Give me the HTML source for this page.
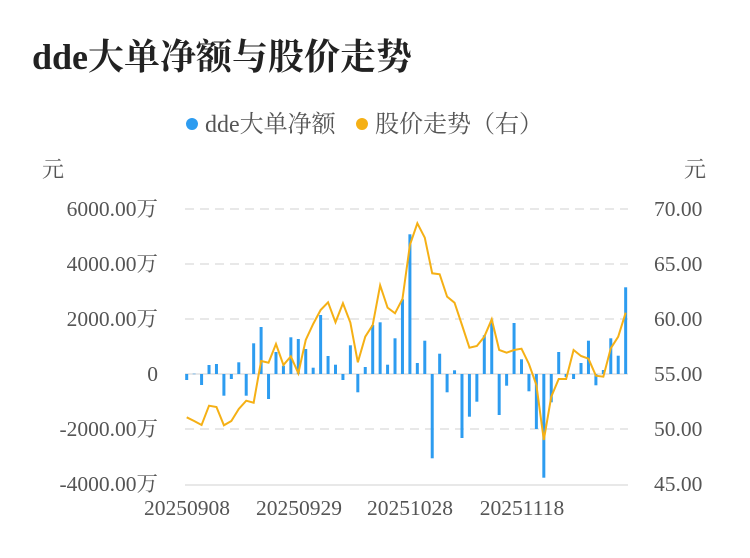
<!DOCTYPE html><html><head><meta charset="utf-8"><style>body{margin:0;background:#fff}svg{display:block}</style></head><body>
<svg id="sv" width="750" height="558" xmlns="http://www.w3.org/2000/svg" font-family="Liberation Serif, Noto Serif CJK SC, serif">
<text x="32" y="69" font-size="36" font-weight="bold" fill="#222">dde大单净额与股价走势</text>
<circle cx="192" cy="124" r="6" fill="#2d9cf0"/><text x="205" y="132" font-size="24" fill="#555">dde大单净额</text>
<circle cx="362" cy="124" r="6" fill="#f5b015"/><text x="375" y="132" font-size="24" fill="#555">股价走势（右）</text>
<g font-size="22" fill="#555"><text x="42" y="177">元</text><text x="684" y="177">元</text></g>
<g stroke="#e8e8e8" stroke-width="2" stroke-dasharray="9,6"><line x1="185" x2="628" y1="209" y2="209"/><line x1="185" x2="628" y1="264" y2="264"/><line x1="185" x2="628" y1="319" y2="319"/><line x1="185" x2="628" y1="429" y2="429"/></g>
<line x1="185" x2="628" y1="374" y2="374" stroke="#e8e8e8" stroke-width="2"/>
<line x1="185" x2="628" y1="485" y2="485" stroke="#e8e8e8" stroke-width="2"/>
<g font-size="21.5" fill="#555" text-anchor="end"><text x="158" y="216">6000.00万</text><text x="158" y="271">4000.00万</text><text x="158" y="326">2000.00万</text><text x="158" y="381">0</text><text x="158" y="436">-2000.00万</text><text x="158" y="491">-4000.00万</text></g>
<g font-size="21.5" fill="#555"><text x="654" y="216">70.00</text><text x="654" y="271">65.00</text><text x="654" y="326">60.00</text><text x="654" y="381">55.00</text><text x="654" y="436">50.00</text><text x="654" y="491">45.00</text></g>
<g font-size="21.5" fill="#555" text-anchor="middle"><text x="187" y="515">20250908</text><text x="299" y="515">20250929</text><text x="410" y="515">20251028</text><text x="522" y="515">20251118</text></g>
<g id="bars" fill="#2d9cf0"></g>
<polyline id="ln" fill="none" stroke="#f5b015" stroke-width="2"/>
<script>
var h=[-6,0.3,-11,9,10,-21.7,-5,11.7,-21.7,30.7,47,-25,22,8.3,36.7,35,25,6.3,59,18,9.3,-6,28.7,-18.3,7,49,51.7,9.3,35.7,74.7,139.7,11,33.3,-84.3,20.3,-18.3,3.7,-64,-42.7,-27.7,38.7,53.7,-41,-11.7,51,14.7,-17.3,-55,-103.7,-28.3,22,-3,-5,11,33.3,-11.3,4,35.7,18.3,86.7];
var y=[417.3,421,425,405.7,407,425.3,421,409,400.7,402.7,361,362.7,344,365,356.3,373.3,340,324,310,302.3,322.3,303.3,322.7,362.3,336.7,325,285.3,307.7,313.3,299,245,223.3,237.7,273.3,274.3,296.7,302.7,325,347.7,346,336.7,319.3,350,352.7,350,348.7,364,385,440,396.7,379,379,350,356,358.7,375.7,376.7,348.3,336.7,312.7];
var NS="http://www.w3.org/2000/svg",g=document.getElementById('bars'),p=[];
for(var i=0;i<60;i++){var x=186.7+i*7.44,v=h[i];var r=document.createElementNS(NS,'rect');
r.setAttribute('x',x-1.5);r.setAttribute('y',v>0?374-v:374);r.setAttribute('width',3);r.setAttribute('height',Math.max(Math.abs(v),0.5));r.setAttribute('fill','#2d9cf0');g.appendChild(r);p.push(x+','+y[i]);}
document.getElementById('ln').setAttribute('points',p.join(' '));
</script>
</svg></body></html>
